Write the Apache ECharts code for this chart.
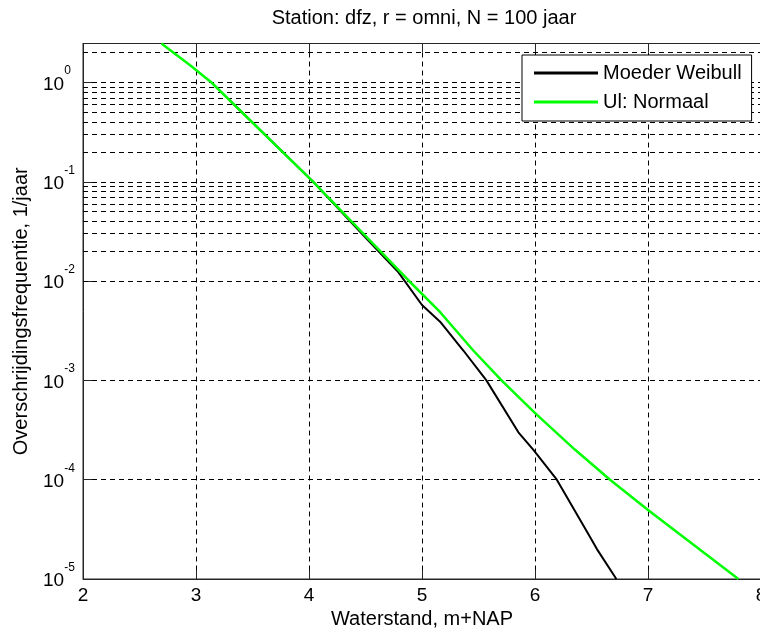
<!DOCTYPE html>
<html>
<head>
<meta charset="utf-8">
<script src="https://cdn.jsdelivr.net/npm/echarts@6/dist/echarts.min.js"></script>
<style>
html,body{margin:0;padding:0;background:#fff;}
#chart{width:760px;height:634px;}
</style>
</head>
<body>
<div id="chart"></div>
<script>
// ---- data ----
const xTicks = [2, 3, 4, 5, 6, 7, 8];
const yMin = 1e-5;
const yMax = 2.47;
const yDecades = [1e-5, 1e-4, 1e-3, 1e-2, 1e-1, 1];
const minorMultipliers = [2, 3, 4, 5, 6, 7, 8, 9];

const weibullX = [3.30, 4.037, 4.50, 4.79, 5.00, 5.16, 5.366, 5.57, 5.853, 5.986, 6.193, 6.459, 6.548, 6.72];
const weibullY = [0.66, 0.1, 0.0275, 0.0123, 5.75e-3, 3.9e-3, 2.0e-3, 1.0e-3, 3.0e-4, 2.0e-4, 1.0e-4, 3.0e-5, 2.0e-5, 1.0e-5];

const normaalX = [2.694, 2.945, 3.137, 4.037, 4.879, 5.159, 5.454, 5.704, 6.008, 6.355, 6.664, 7.006, 7.80];
const normaalY = [2.47, 1.5, 1.0, 0.1, 0.0102, 4.89e-3, 2.0e-3, 1.0e-3, 4.6e-4, 2.0e-4, 1.0e-4, 4.9e-5, 1.0e-5];

// ---- build ----
const FONT = 'Liberation Sans, Arial, sans-serif';
const zip = (xs, ys) => xs.map((x, i) => [x, ys[i]]);

const minorLines = [];
yDecades.forEach(d => minorMultipliers.forEach(m => {
  const v = d * m;
  if (v < yMax) minorLines.push({ yAxis: v });
}));

const gridDash = [5, 4];

const chart = echarts.init(document.getElementById('chart'), null, { renderer: 'canvas' });
const option = {
  animation: false,
  backgroundColor: '#fff',
  title: {
    text: 'Station: dfz, r = omni, N = 100 jaar',
    left: 419, top: 3, textAlign: 'center',
    textStyle: { fontSize: 20, fontWeight: 'normal', color: '#000', fontFamily: FONT }
  },
  grid: {
    left: 83, top: 43.5, width: 678, height: 535.5,
    containLabel: false, outerBoundsMode: 'none',
    show: true, borderColor: '#262626', borderWidth: 1, backgroundColor: '#fff'
  },
  legend: {
    orient: 'vertical', left: 522, top: 55,
    padding: [8, 10, 9, 12], itemGap: 9, itemWidth: 64, itemHeight: 3,
    icon: 'rect',
    backgroundColor: '#fff', borderColor: '#000', borderWidth: 1, borderRadius: 0,
    textStyle: { fontSize: 20, color: '#000', fontFamily: FONT, lineHeight: 20 },
    data: [
      { name: 'Moeder Weibull', icon: 'rect', itemStyle: { color: '#000' } },
      { name: 'Ul: Normaal', icon: 'rect', itemStyle: { color: '#00ff00' } }
    ]
  },
  xAxis: [{
    type: 'value', min: xTicks[0], max: xTicks[xTicks.length - 1], interval: 1,
    position: 'bottom',
    name: 'Waterstand, m+NAP', nameLocation: 'middle', nameGap: 30,
    nameTextStyle: { fontSize: 20, color: '#000', fontFamily: FONT },
    axisLine: { show: true, lineStyle: { color: '#262626', width: 1 } },
    axisTick: { show: true, inside: true, length: 9, lineStyle: { color: '#262626' } },
    axisLabel: { show: true, margin: 7, fontSize: 19, color: '#000', fontFamily: FONT, hideOverlap: false },
    splitLine: { show: true, lineStyle: { color: '#000', type: gridDash, width: 1 } }
  }, {
    type: 'value', min: xTicks[0], max: xTicks[xTicks.length - 1], interval: 1,
    position: 'top',
    axisLine: { show: true, lineStyle: { color: '#262626', width: 1 } },
    axisTick: { show: true, inside: true, length: 9, lineStyle: { color: '#262626' } },
    axisLabel: { show: false },
    splitLine: { show: false }
  }],
  yAxis: [{
    type: 'log', logBase: 10, min: yMin, max: yMax,
    name: 'Overschrijdingsfrequentie, 1/jaar', nameLocation: 'middle', nameGap: 52, nameRotate: 90,
    nameTextStyle: { fontSize: 20, color: '#000', fontFamily: FONT },
    axisLine: { show: true, lineStyle: { color: '#262626', width: 1 } },
    axisTick: { show: true, inside: true, length: 9, lineStyle: { color: '#262626' } },
    axisLabel: {
      show: true, align: 'left', margin: 40, color: '#000', fontFamily: FONT,
      padding: [0, 0, 6, 0],
      formatter: function (v) {
        const l = Math.log10(v);
        const e = Math.round(l);
        if (Math.abs(l - e) > 1e-6) return '';
        return '{b|10}{s|' + e + '}';
      },
      rich: {
        b: { fontSize: 19, lineHeight: 29, verticalAlign: 'bottom', color: '#000', fontFamily: FONT },
        s: { fontSize: 12, lineHeight: 29, verticalAlign: 'top', color: '#000', fontFamily: FONT }
      }
    },
    splitLine: { show: true, lineStyle: { color: '#000', type: gridDash, width: 1 } }
  }],
  series: [{
    name: 'Moeder Weibull', type: 'line', data: zip(weibullX, weibullY),
    symbol: 'none', showSymbol: false, smooth: false, z: 3,
    lineStyle: { color: '#000', width: 2 }, itemStyle: { color: '#000' },
    markLine: {
      silent: true, z: 1, symbol: ['none', 'none'], animation: false,
      label: { show: false },
      lineStyle: { color: '#000', type: gridDash, width: 1 },
      emphasis: { disabled: true },
      data: minorLines
    }
  }, {
    name: 'Ul: Normaal', type: 'line', data: zip(normaalX, normaalY),
    symbol: 'none', showSymbol: false, smooth: false, z: 4,
    lineStyle: { color: '#00ff00', width: 2.5 }, itemStyle: { color: '#00ff00' }
  }]
};
chart.setOption(option);
</script>
</body>
</html>
